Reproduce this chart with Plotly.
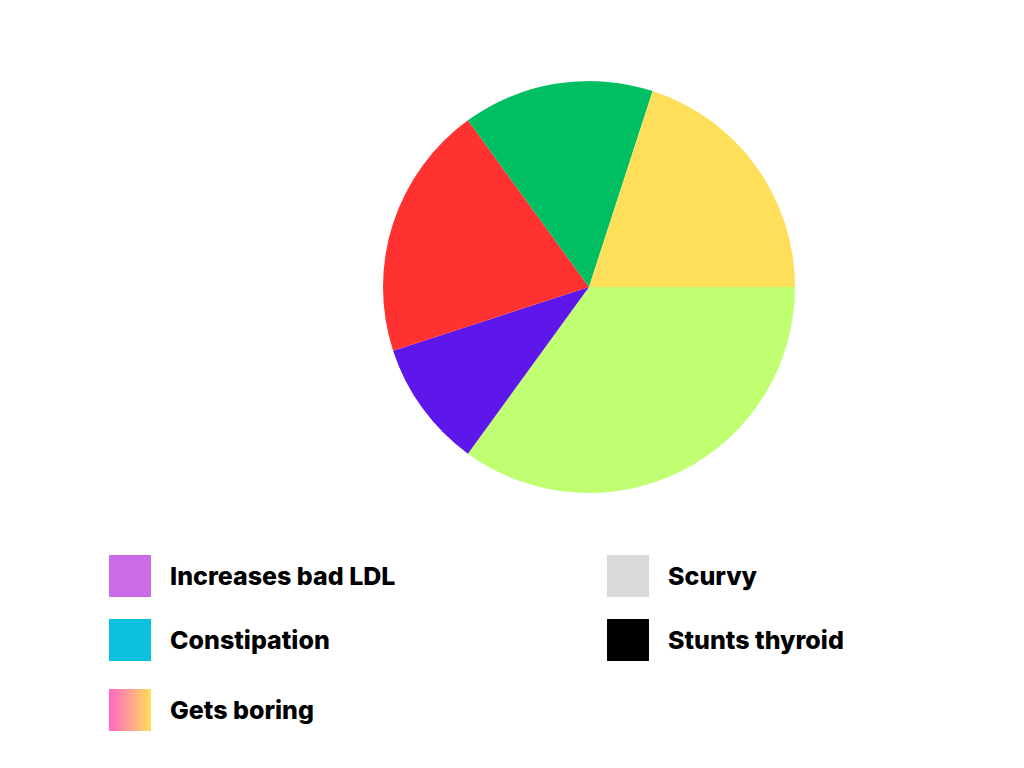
import base64
import plotly.graph_objects as go

# pie slices (clockwise, starting at 3 o'clock)
slice_values = [35, 10, 20, 15, 20]
slice_colors = ["#C1FF72", "#5E17EB", "#FF3131", "#00BF63", "#FFDE59"]

# legend entries (drawn by hand below the pie)
legend_labels = ["Increases bad LDL", "Constipation", "Gets boring", "Scurvy", "Stunts thyroid"]
legend_colors = ["#CB6CE6", "#0CC0DF", None, "#D9D9D9", "#000000"]
legend_cols = [0, 0, 0, 1, 1]
legend_rows = [0, 1, 2, 0, 1]

W, H = 1024, 768
OFF = 8  # page body margin


def px(x):
    return (x - OFF) / W


def py(y):
    return 1 - (y - OFF) / H


fig = go.Figure()

fig.add_trace(
    go.Pie(
        values=slice_values,
        marker=dict(colors=slice_colors, line=dict(width=0)),
        sort=False,
        direction="clockwise",
        rotation=90,
        textinfo="none",
        hoverinfo="percent",
        showlegend=False,
        domain=dict(x=[px(383), px(795)], y=[py(493), py(81)]),
    )
)

# gradient swatch as svg image
svg = (
    '<svg xmlns="http://www.w3.org/2000/svg" width="42" height="42">'
    '<defs><linearGradient id="g" x1="0" x2="1" y1="0" y2="0">'
    '<stop offset="0" stop-color="#FF66C4"/><stop offset="1" stop-color="#FFDE59"/>'
    '</linearGradient></defs><rect width="42" height="42" fill="url(#g)"/></svg>'
)
grad_src = "data:image/svg+xml;base64," + base64.b64encode(svg.encode()).decode()

col_x = [109, 607]
row_y = [555, 619, 689]
box = 42

shapes = []
annotations = []
images = []
for label, color, c, r in zip(legend_labels, legend_colors, legend_cols, legend_rows):
    x0 = col_x[c]
    y0 = row_y[r]
    if color is None:
        images.append(dict(
            source=grad_src, xref="paper", yref="paper",
            x=px(x0), y=py(y0), sizex=box / W, sizey=box / H,
            xanchor="left", yanchor="top", sizing="stretch", layer="above",
        ))
    else:
        shapes.append(dict(
            type="rect", xref="paper", yref="paper",
            x0=px(x0), x1=px(x0 + box), y0=py(y0 + box), y1=py(y0),
            fillcolor=color, line=dict(width=0),
        ))
    annotations.append(dict(
        text=label, xref="paper", yref="paper",
        x=px(x0 + 59), y=py(y0 + box / 2),
        xanchor="left", yanchor="middle", showarrow=False,
        font=dict(family="Inter", size=25, color="#000000", weight=800),
    ))

fig.update_layout(
    width=W,
    height=H,
    margin=dict(l=0, r=0, t=0, b=0),
    paper_bgcolor="white",
    plot_bgcolor="white",
    shapes=shapes,
    annotations=annotations,
    images=images,
)

fig.write_html("out.html")
